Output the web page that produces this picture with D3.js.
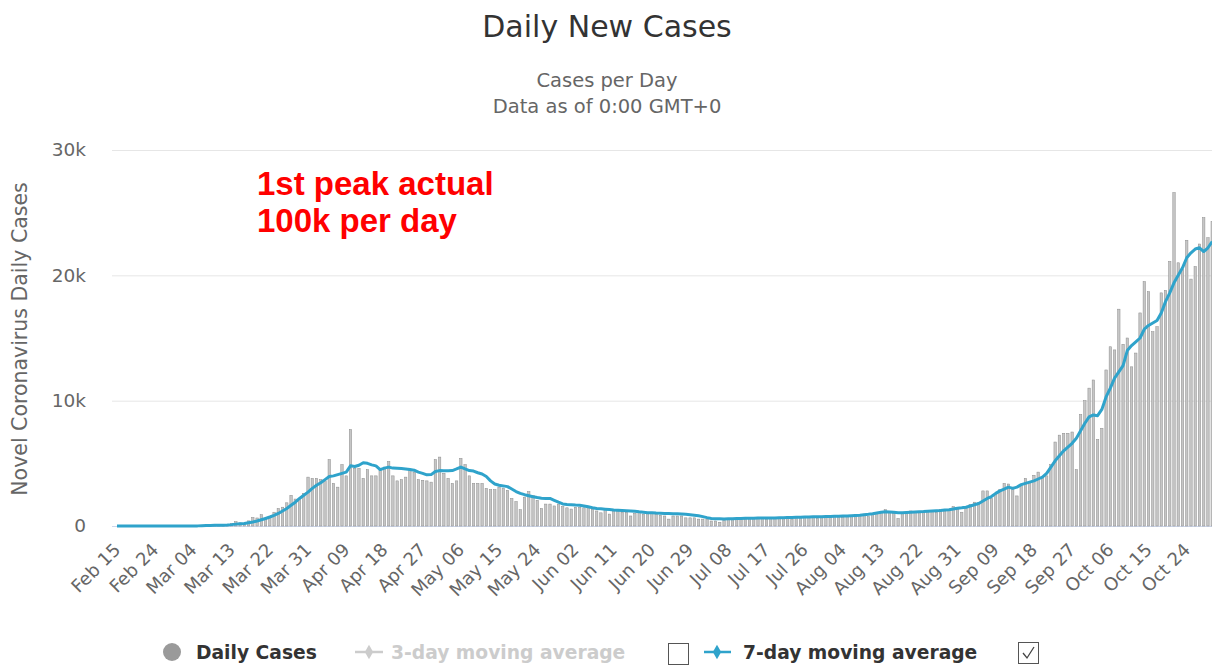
<!DOCTYPE html>
<html>
<head>
<meta charset="utf-8">
<script src="https://cdn.jsdelivr.net/npm/d3@7"></script>
<style>
  body { margin: 0; background: #fff; }
  svg { display: block; font-family: "DejaVu Sans", sans-serif; }
</style>
</head>
<body>
<div id="chart"></div>
<script>
// Daily new cases (thousands), one value per day from Feb 15 to Oct 30 2020
var dailyCases = [
  0, 0, 0, 0, 0,  0, 0, 0, 0, 0,
  0, 0.004, 0, 0.003, 0.003,  0.013, 0.004, 0.011, 0.034, 0.029,
  0.048, 0.043, 0.067, 0.048, 0.052,  0.083, 0.134, 0.21, 0.34, 0.25,
  0.15, 0.41, 0.68, 0.64, 0.9,  0.65, 0.7, 1.1, 1.4, 1.5,
  1.85, 2.45, 2.15, 2.1, 2.6,  3.9, 3.8, 3.8, 3.7, 3.6,
  5.3, 3.4, 3.1, 4.9, 4.0,  7.7, 4.6, 4.6, 3.8, 4.5,
  4.0, 4.0, 4.5, 4.7, 5.15,  4.0, 3.6, 3.7, 3.9, 4.5,
  4.3, 3.7, 3.65, 3.6, 3.5,  5.3, 5.5, 4.2, 3.8, 3.4,
  3.6, 5.4, 4.9, 4.0, 3.4,  3.4, 3.4, 3.0, 2.9, 2.9,
  3.1, 3.0, 2.85, 2.2, 1.95,  1.3, 2.3, 2.75, 2.45, 2.05,
  1.4, 1.75, 1.75, 1.6, 1.75,  1.55, 1.45, 1.35, 1.5, 1.5,
  1.45, 1.45, 1.35, 1.2, 1.05,  1.35, 0.95, 1.2, 1.2, 1.1,
  1.1, 0.8, 1.0, 1.1, 0.95,  1.05, 1.05, 0.95, 0.85, 0.8,
  0.55, 0.8, 0.8, 0.8, 0.65,  0.65, 0.65, 0.55, 0.55, 0.55,
  0.4, 0.4, 0.3, 0.45, 0.55,  0.6, 0.6, 0.5, 0.55, 0.65,
  0.6, 0.7, 0.65, 0.55, 0.6,  0.7, 0.65, 0.7, 0.75, 0.55,
  0.65, 0.7, 0.7, 0.75, 0.75,  0.6, 0.7, 0.75, 0.8, 0.8,
  0.75, 0.7, 0.8, 0.85, 0.9,  0.9, 0.95, 0.75, 0.9, 1.05,
  1.1, 1.3, 1.05, 1.0, 0.6,  1.05, 1.1, 1.2, 1.1, 1.05,
  1.15, 1.25, 1.2, 1.1, 1.3,  1.2, 1.3, 1.55, 1.35, 1.1,
  1.4, 1.7, 1.9, 1.85, 2.8,  2.8, 2.2, 2.6, 2.9, 3.4,
  3.35, 3.1, 2.4, 3.3, 3.8,  3.5, 4.05, 4.3, 3.9, 4.0,
  4.9, 6.7, 7.25, 7.4, 7.4,  7.5, 4.5, 8.9, 10.0, 11.0,
  11.65, 6.9, 7.8, 12.45, 14.3,  14.05, 17.3, 14.5, 15.0, 12.7,
  13.8, 17.0, 19.5, 18.7, 15.5,  15.9, 18.6, 18.8, 21.1, 26.6,
  21.0, 20.5, 22.8, 19.7, 20.7,  22.5, 24.6, 23.0, 24.3
];

// 7-day moving average (thousands), same days
var movingAvg7 = [
  0, 0, 0, 0, 0,  0, 0, 0, 0, 0,
  0, 0, 0, 0, 0,  0, 0, 0, 0.01, 0.01,
  0.02, 0.03, 0.04, 0.05, 0.05,  0.06, 0.08, 0.11, 0.15, 0.18,
  0.2, 0.26, 0.32, 0.4, 0.5,  0.6, 0.72, 0.85, 1.0, 1.2,
  1.4, 1.65, 1.9, 2.2, 2.45,  2.7, 3.0, 3.25, 3.45, 3.7,
  3.95, 4.0, 4.1, 4.2, 4.3,  4.8, 4.75, 4.85, 5.05, 5.0,
  4.88, 4.8, 4.5, 4.62, 4.7,  4.62, 4.6, 4.58, 4.55, 4.5,
  4.45, 4.3, 4.2, 4.08, 4.1,  4.35, 4.42, 4.4, 4.4, 4.42,
  4.55, 4.7, 4.55, 4.42, 4.38,  4.25, 4.15, 3.95, 3.6, 3.35,
  3.25, 3.2, 3.14, 2.95, 2.75,  2.6, 2.5, 2.42, 2.34, 2.27,
  2.22, 2.2, 2.2, 2.05, 1.9,  1.76, 1.72, 1.7, 1.67, 1.65,
  1.6, 1.53, 1.46, 1.4, 1.37,  1.34, 1.31, 1.28, 1.26, 1.24,
  1.22, 1.2, 1.17, 1.13, 1.1,  1.06, 1.05, 1.03, 1.02, 1.0,
  0.99, 0.98, 0.97, 0.96, 0.93,  0.9, 0.86, 0.82, 0.75, 0.67,
  0.6, 0.58, 0.57, 0.56, 0.57,  0.58, 0.59, 0.6, 0.61, 0.62,
  0.62, 0.63, 0.63, 0.63, 0.64,  0.64, 0.65, 0.66, 0.67, 0.68,
  0.69, 0.7, 0.71, 0.72, 0.73,  0.74, 0.74, 0.75, 0.76, 0.77,
  0.78, 0.79, 0.8, 0.82, 0.84,  0.86, 0.9, 0.93, 0.98, 1.04,
  1.1, 1.14, 1.12, 1.09, 1.06,  1.06, 1.08, 1.1, 1.12, 1.14,
  1.15, 1.18, 1.2, 1.22, 1.24,  1.27, 1.3, 1.35, 1.41, 1.45,
  1.5, 1.6, 1.7, 1.8, 2.0,  2.2, 2.35, 2.6, 2.8, 2.95,
  3.1, 3.0, 3.1, 3.3, 3.4,  3.5, 3.6, 3.75, 3.9, 4.2,
  4.7, 5.2, 5.6, 6.0, 6.3,  6.6, 7.0, 7.6, 8.2, 8.7,
  8.86, 8.8, 9.3, 10.3, 11.0,  11.8, 12.3, 12.8, 14.0, 14.4,
  14.7, 15.0, 15.7, 16.0, 16.2,  16.4, 17.0, 17.9, 18.6, 19.4,
  20.0, 20.6, 21.4, 21.8, 22.1,  22.2, 21.9, 22.2, 22.7
];

// x labels, every 9th day starting from the first
var tickLabels = ["Feb 15", "Feb 24", "Mar 04", "Mar 13", "Mar 22", "Mar 31", "Apr 09",
  "Apr 18", "Apr 27", "May 06", "May 15", "May 24", "Jun 02", "Jun 11", "Jun 20",
  "Jun 29", "Jul 08", "Jul 17", "Jul 26", "Aug 04", "Aug 13", "Aug 22", "Aug 31",
  "Sep 09", "Sep 18", "Sep 27", "Oct 06", "Oct 15", "Oct 24"];
var tickEvery = 9;
var yTicks = [0, 10, 20, 30];

var svgWidth = 1212, svgHeight = 666;
var plotTop = 150, plotBottom = 526, plotLeft = 112;
var firstX = 117, dayStep = 4.245;

var days = d3.range(dailyCases.length);

var svg = d3.select("#chart").append("svg")
  .attr("width", svgWidth)
  .attr("height", svgHeight);

// Scales
// ==============================
var xScale = d3.scalePoint()
  .domain(days)
  .range([firstX, firstX + (days.length - 1) * dayStep]);
var yScale = d3.scaleLinear()
  .domain([0, 30])
  .range([plotBottom, plotTop]);

// Titles
// ==============================
svg.append("text")
  .attr("x", 607).attr("y", 37)
  .attr("text-anchor", "middle")
  .attr("font-size", "30px")
  .attr("fill", "#333")
  .text("Daily New Cases");
svg.append("text")
  .attr("x", 607).attr("y", 87)
  .attr("text-anchor", "middle")
  .attr("font-size", "19.5px")
  .attr("fill", "#666")
  .text("Cases per Day");
svg.append("text")
  .attr("x", 607).attr("y", 113)
  .attr("text-anchor", "middle")
  .attr("font-size", "19.5px")
  .attr("fill", "#666")
  .text("Data as of 0:00 GMT+0");

// Grid + y axis
// ==============================
var leftAxis = d3.axisLeft(yScale)
  .tickValues(yTicks)
  .tickSize(-(svgWidth - plotLeft))
  .tickPadding(26)
  .tickFormat(d => d === 0 ? "0" : d + "k");
var yAxisG = svg.append("g")
  .attr("transform", `translate(${plotLeft}, 0)`)
  .call(leftAxis);
yAxisG.select(".domain").remove();
yAxisG.selectAll(".tick line")
  .attr("stroke", d => d === 0 ? "#ccd6eb" : "#e6e6e6");
yAxisG.selectAll(".tick text")
  .attr("font-size", "18.5px")
  .attr("fill", "#666")
  .attr("font-family", "DejaVu Sans, sans-serif");

svg.append("text")
  .attr("transform", "translate(27, 339) rotate(-90)")
  .attr("text-anchor", "middle")
  .attr("font-size", "20.5px")
  .attr("fill", "#666")
  .text("Novel Coronavirus Daily Cases");

// Bars
// ==============================
var barWidth = 2.4;
svg.append("g").selectAll("rect")
  .data(dailyCases)
  .enter()
  .append("rect")
  .attr("x", (d, i) => xScale(i) - barWidth / 2)
  .attr("y", d => yScale(d))
  .attr("width", barWidth)
  .attr("height", d => yScale(0) - yScale(d))
  .attr("fill", "#c6c6c6")
  .attr("stroke", "#8c8c8c")
  .attr("stroke-width", 0.5);

// 7-day moving average
// ==============================
var avgLine = d3.line()
  .x((d, i) => xScale(i))
  .y(d => yScale(d));
svg.append("path")
  .datum(movingAvg7)
  .attr("d", avgLine)
  .attr("fill", "none")
  .attr("stroke", "#2fa3cb")
  .attr("stroke-width", 3)
  .attr("stroke-linejoin", "round");

// x axis
// ==============================
var tickDays = days.filter(i => i % tickEvery === 0);
var bottomAxis = d3.axisBottom(xScale)
  .tickValues(tickDays)
  .tickSize(0)
  .tickFormat(i => tickLabels[i / tickEvery]);
var xAxisG = svg.append("g")
  .attr("transform", `translate(0, ${plotBottom})`)
  .call(bottomAxis);
xAxisG.select(".domain").remove();
xAxisG.selectAll(".tick text")
  .attr("font-size", "18px")
  .attr("fill", "#666")
  .attr("font-family", "DejaVu Sans, sans-serif")
  .attr("text-anchor", "end")
  .attr("dy", null)
  .attr("y", 0)
  .attr("transform", "translate(4, 25) rotate(-45)");

// Annotation
// ==============================
var note = svg.append("text")
  .attr("font-family", "Liberation Sans, Arial, sans-serif")
  .attr("font-weight", "bold")
  .attr("font-size", "33px")
  .attr("fill", "#ff0000");
note.append("tspan").attr("x", 257).attr("y", 195).text("1st peak actual");
note.append("tspan").attr("x", 257).attr("y", 232).text("100k per day");

// Legend
// ==============================
var legend = svg.append("g")
  .attr("font-size", "18.7px")
  .attr("font-weight", "bold");
var legendY = 659;

legend.append("circle")
  .attr("cx", 172).attr("cy", legendY - 7).attr("r", 9)
  .attr("fill", "#9a9a9a");
legend.append("text")
  .attr("x", 196).attr("y", legendY)
  .attr("fill", "#333")
  .text("Daily Cases");

legend.append("line")
  .attr("x1", 355).attr("x2", 383)
  .attr("y1", legendY - 7).attr("y2", legendY - 7)
  .attr("stroke", "#cccccc").attr("stroke-width", 2.5);
legend.append("path")
  .attr("d", d3.symbol(d3.symbolDiamond, 60)())
  .attr("transform", `translate(369, ${legendY - 7})`)
  .attr("fill", "#cccccc");
legend.append("text")
  .attr("x", 391).attr("y", legendY)
  .attr("fill", "#cccccc")
  .text("3-day moving average");

legend.append("rect")
  .attr("x", 668.5).attr("y", 643.5).attr("width", 20).attr("height", 21)
  .attr("fill", "#fff").attr("stroke", "#555").attr("stroke-width", 1);

legend.append("line")
  .attr("x1", 704).attr("x2", 731)
  .attr("y1", legendY - 7).attr("y2", legendY - 7)
  .attr("stroke", "#2fa3cb").attr("stroke-width", 2.5);
legend.append("path")
  .attr("d", d3.symbol(d3.symbolDiamond, 60)())
  .attr("transform", `translate(717, ${legendY - 7})`)
  .attr("fill", "#2fa3cb");
legend.append("text")
  .attr("x", 743).attr("y", legendY)
  .attr("fill", "#333")
  .text("7-day moving average");

legend.append("rect")
  .attr("x", 1018.5).attr("y", 642.5).attr("width", 20).attr("height", 21)
  .attr("fill", "#fff").attr("stroke", "#555").attr("stroke-width", 1);
legend.append("path")
  .attr("d", "M1023,653 L1027,658 L1034,647")
  .attr("fill", "none").attr("stroke", "#444").attr("stroke-width", 1.3);
</script>
</body>
</html>
